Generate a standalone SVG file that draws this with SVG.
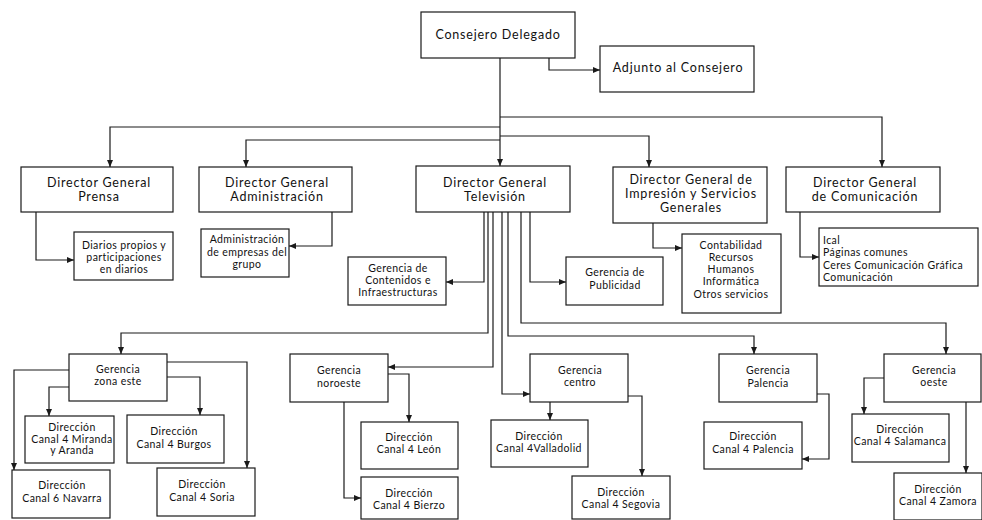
<svg xmlns="http://www.w3.org/2000/svg" width="982" height="520" viewBox="0 0 982 520">
  <style>
    .box { fill: #ffffff; stroke: #1a1a1a; stroke-width: 1.2; }
    .link { fill: none; stroke: #1a1a1a; stroke-width: 1.2; marker-end: url(#arrow); }
    text { font-family: Lato, "Noto Sans", "Liberation Sans", sans-serif; fill: #111111; text-anchor: middle; }
    .big { font-size: 12.5px; letter-spacing: 0.8px; }
    .small { font-size: 10.5px; letter-spacing: 0.4px; }
    .left { text-anchor: start; }
  </style>
  <defs>
    <marker id="arrow" viewBox="0 0 7 6" refX="7" refY="3" markerWidth="7" markerHeight="6" markerUnits="userSpaceOnUse" orient="auto">
      <path d="M0,0 L7,3 L0,6 z" fill="#1a1a1a"/>
    </marker>
  </defs>
  <rect width="982" height="520" fill="#ffffff"/>

  <!-- connectors -->
  <g id="connectors">
    <path class="link" d="M549,58 V70 H600"/>
    <path class="link" d="M500,58 V166"/>
    <path class="link" d="M500,117 H882 V167"/>
    <path class="link" d="M500,127 H110 V167"/>
    <path class="link" d="M500,140 H246 V167"/>
    <path class="link" d="M500,136 H649 V167"/>
    <path class="link" d="M36,212 V260 H74"/>
    <path class="link" d="M332,212 V246 H289"/>
    <path class="link" d="M484,212 V282 H446"/>
    <path class="link" d="M530,212 V282 H566"/>
    <path class="link" d="M653,223 V248 H682"/>
    <path class="link" d="M800,212 V257 H819"/>
    <path class="link" d="M488,212 V333 H121 V354"/>
    <path class="link" d="M493,212 V367 H388"/>
    <path class="link" d="M502,212 V394 H530"/>
    <path class="link" d="M508,212 V336 H754 V354"/>
    <path class="link" d="M521,212 V323 H946 V354"/>
    <path class="link" d="M69,370 H14 V470"/>
    <path class="link" d="M69,387 H49 V416"/>
    <path class="link" d="M167,377 H200 V415"/>
    <path class="link" d="M167,362 H247 V468"/>
    <path class="link" d="M388,374 H409 V422"/>
    <path class="link" d="M344,402 V498 H361"/>
    <path class="link" d="M550,402 V420"/>
    <path class="link" d="M628,396 H642 V476"/>
    <path class="link" d="M817,394 H829 V459 H802"/>
    <path class="link" d="M884,378 H864 V414"/>
    <path class="link" d="M966,402 V473"/>
  </g>

  <!-- top level -->
  <g id="consejero-delegado">
    <rect class="box" x="421" y="12" width="154" height="46"/>
    <text class="big" x="498" y="39">Consejero Delegado</text>
  </g>
  <g id="adjunto">
    <rect class="box" x="600" y="46" width="154" height="46"/>
    <text class="big" x="678" y="72">Adjunto al Consejero</text>
  </g>

  <!-- directors general -->
  <g id="dg-prensa">
    <rect class="box" x="21" y="167" width="152" height="45"/>
    <text class="big" x="99" y="186.5">Director General</text>
    <text class="big" x="99" y="200.5">Prensa</text>
  </g>
  <g id="dg-administracion">
    <rect class="box" x="199" y="167" width="153" height="45"/>
    <text class="big" x="277" y="186.5">Director General</text>
    <text class="big" x="277" y="200.5">Administración</text>
  </g>
  <g id="dg-television">
    <rect class="box" x="416" y="166" width="154" height="46"/>
    <text class="big" x="495" y="186.5">Director General</text>
    <text class="big" x="495" y="200.5">Televisión</text>
  </g>
  <g id="dg-impresion">
    <rect class="box" x="613" y="167" width="154" height="56"/>
    <text class="big" x="691" y="183.5">Director General de</text>
    <text class="big" x="691" y="197.5">Impresión y Servicios</text>
    <text class="big" x="691" y="211.5">Generales</text>
  </g>
  <g id="dg-comunicacion">
    <rect class="box" x="786" y="167" width="154" height="45"/>
    <text class="big" x="865" y="186.5">Director General</text>
    <text class="big" x="865" y="200.5">de Comunicación</text>
  </g>

  <!-- second level -->
  <g id="diarios">
    <rect class="box" x="74" y="232" width="99" height="48"/>
    <text class="small" x="124" y="249">Diarios propios y</text>
    <text class="small" x="124" y="261">participaciones</text>
    <text class="small" x="124" y="272.5">en diarios</text>
  </g>
  <g id="admin-empresas">
    <rect class="box" x="201" y="229" width="88" height="48"/>
    <text class="small" x="247" y="243">Administración</text>
    <text class="small" x="247" y="255.5">de empresas del</text>
    <text class="small" x="247" y="268">grupo</text>
  </g>
  <g id="contenidos">
    <rect class="box" x="348" y="257" width="98" height="48"/>
    <text class="small" x="398" y="272">Gerencia de</text>
    <text class="small" x="398" y="284">Contenidos e</text>
    <text class="small" x="398" y="296">Infraestructuras</text>
  </g>
  <g id="publicidad">
    <rect class="box" x="566" y="257" width="97" height="48"/>
    <text class="small" x="615" y="276">Gerencia de</text>
    <text class="small" x="615" y="288.5">Publicidad</text>
  </g>
  <g id="servicios">
    <rect class="box" x="682" y="234" width="99" height="79"/>
    <text class="small" x="731" y="249">Contabilidad</text>
    <text class="small" x="731" y="261">Recursos</text>
    <text class="small" x="731" y="273">Humanos</text>
    <text class="small" x="731" y="285">Informática</text>
    <text class="small" x="731" y="297.5">Otros servicios</text>
  </g>
  <g id="comunicacion-lista">
    <rect class="box" x="819" y="228" width="159" height="58"/>
    <text class="small left" x="823" y="243.5">Ical</text>
    <text class="small left" x="823" y="256">Páginas comunes</text>
    <text class="small left" x="823" y="268.5">Ceres Comunicación Gráfica</text>
    <text class="small left" x="823" y="280.5">Comunicación</text>
  </g>

  <!-- regional management -->
  <g id="gerencia-zona-este">
    <rect class="box" x="69" y="354" width="98" height="47"/>
    <text class="small" x="118" y="373">Gerencia</text>
    <text class="small" x="118" y="385">zona este</text>
  </g>
  <g id="canal4-miranda">
    <rect class="box" x="25" y="416" width="89" height="47"/>
    <text class="small" x="72" y="430.5">Dirección</text>
    <text class="small" x="72" y="442.5">Canal 4 Miranda</text>
    <text class="small" x="72" y="454">y Aranda</text>
  </g>
  <g id="canal4-burgos">
    <rect class="box" x="127" y="415" width="97" height="48"/>
    <text class="small" x="174" y="435">Dirección</text>
    <text class="small" x="174" y="447.5">Canal 4 Burgos</text>
  </g>
  <g id="canal6-navarra">
    <rect class="box" x="12" y="470" width="98" height="48"/>
    <text class="small" x="62" y="489">Dirección</text>
    <text class="small" x="62" y="501.5">Canal 6 Navarra</text>
  </g>
  <g id="canal4-soria">
    <rect class="box" x="157" y="468" width="98" height="48"/>
    <text class="small" x="202" y="488">Dirección</text>
    <text class="small" x="202" y="500.5">Canal 4 Soria</text>
  </g>

  <g id="gerencia-noroeste">
    <rect class="box" x="290" y="354" width="98" height="48"/>
    <text class="small" x="339" y="374">Gerencia</text>
    <text class="small" x="339" y="386.5">noroeste</text>
  </g>
  <g id="canal4-leon">
    <rect class="box" x="361" y="422" width="97" height="47"/>
    <text class="small" x="409" y="440.5">Dirección</text>
    <text class="small" x="409" y="452.5">Canal 4 León</text>
  </g>
  <g id="canal4-bierzo">
    <rect class="box" x="361" y="477" width="97" height="42"/>
    <text class="small" x="409" y="496.5">Dirección</text>
    <text class="small" x="409" y="508.5">Canal 4 Bierzo</text>
  </g>

  <g id="gerencia-centro">
    <rect class="box" x="530" y="354" width="98" height="48"/>
    <text class="small" x="580" y="374">Gerencia</text>
    <text class="small" x="580" y="386">centro</text>
  </g>
  <g id="canal4-valladolid">
    <rect class="box" x="491" y="420" width="97" height="47"/>
    <text class="small" x="539" y="439.5">Dirección</text>
    <text class="small" x="539" y="451.5">Canal 4Valladolid</text>
  </g>
  <g id="canal4-segovia">
    <rect class="box" x="572" y="476" width="98" height="43"/>
    <text class="small" x="621" y="496">Dirección</text>
    <text class="small" x="621" y="507.5">Canal 4 Segovia</text>
  </g>

  <g id="gerencia-palencia">
    <rect class="box" x="719" y="354" width="98" height="48"/>
    <text class="small" x="768" y="374">Gerencia</text>
    <text class="small" x="768" y="386.5">Palencia</text>
  </g>
  <g id="canal4-palencia">
    <rect class="box" x="704" y="422" width="98" height="47"/>
    <text class="small" x="753" y="440">Dirección</text>
    <text class="small" x="753" y="452.5">Canal 4 Palencia</text>
  </g>

  <g id="gerencia-oeste">
    <rect class="box" x="884" y="354" width="97" height="48"/>
    <text class="small" x="934" y="374">Gerencia</text>
    <text class="small" x="934" y="386">oeste</text>
  </g>
  <g id="canal4-salamanca">
    <rect class="box" x="852" y="414" width="97" height="48"/>
    <text class="small" x="900" y="432.5">Dirección</text>
    <text class="small" x="900" y="445">Canal 4 Salamanca</text>
  </g>
  <g id="canal4-zamora">
    <rect class="box" x="894" y="473" width="88" height="47"/>
    <text class="small" x="938" y="492.5">Dirección</text>
    <text class="small" x="938" y="505">Canal 4 Zamora</text>
  </g>
</svg>
